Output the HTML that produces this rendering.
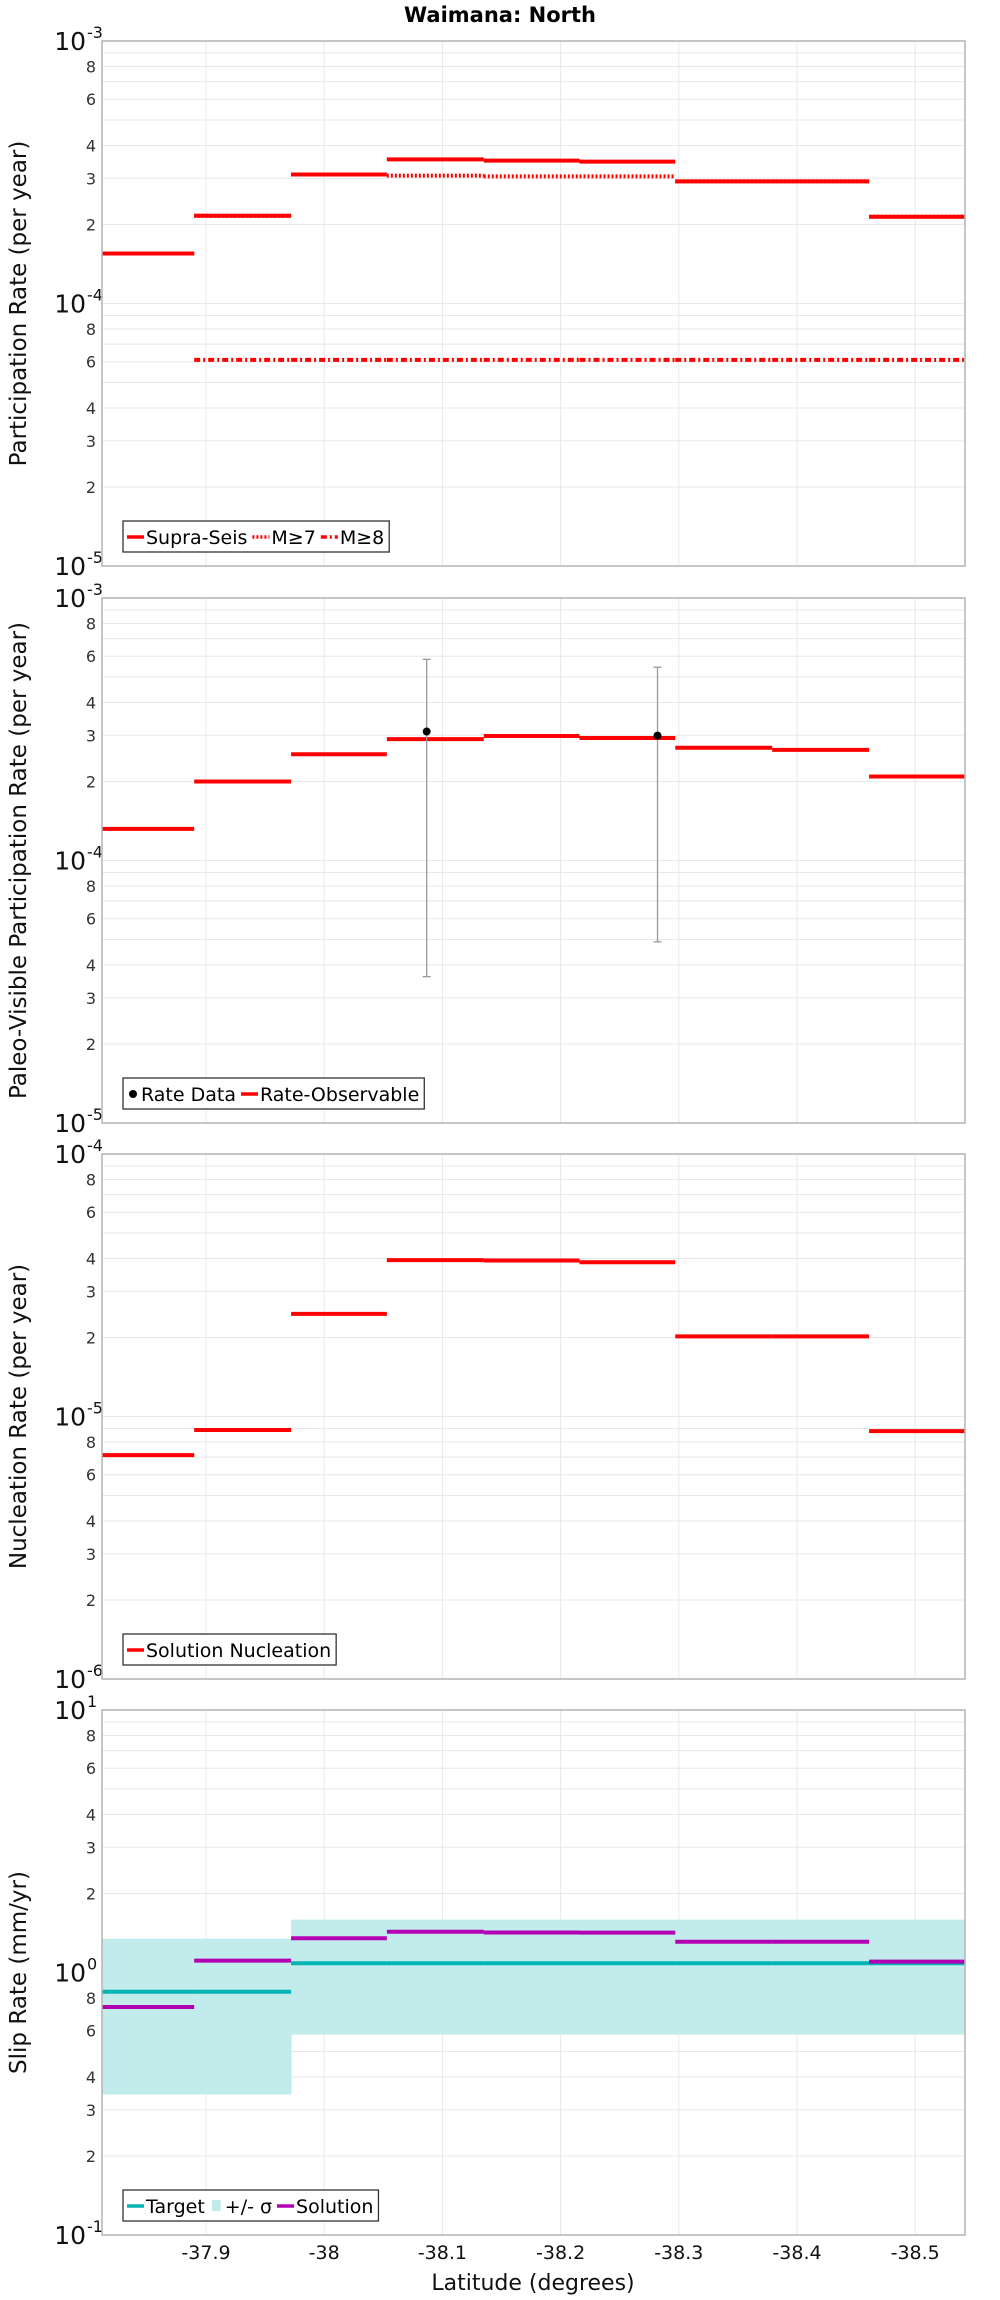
<!DOCTYPE html>
<html><head><meta charset="utf-8"><style>
html,body{margin:0;padding:0;background:#fff;}
svg{display:block;font-family:"DejaVu Sans","Liberation Sans",sans-serif;}
</style></head><body>
<svg id="chart" width="1000" height="2300" xmlns="http://www.w3.org/2000/svg"></svg>
<script>
// Segment boundaries (latitude)
const segEdges = [-37.812,-37.890,-37.972,-38.053,-38.135,-38.216,-38.297,-38.379,-38.461,-38.542];
const xTicks = [-37.9,-38,-38.1,-38.2,-38.3,-38.4,-38.5];
const xTickLabels = ["-37.9","-38","-38.1","-38.2","-38.3","-38.4","-38.5"];
// Panel 1
const supraSeis = [1.55e-4,2.16e-4,3.10e-4,3.54e-4,3.50e-4,3.47e-4,2.92e-4,2.92e-4,2.14e-4];
const m7 = [1.55e-4,2.16e-4,3.10e-4,3.07e-4,3.05e-4,3.05e-4,2.92e-4,2.92e-4,2.14e-4];
const m8 = [null,6.1e-5,6.1e-5,6.1e-5,6.1e-5,6.1e-5,6.1e-5,6.1e-5,6.1e-5];
// Panel 2
const rateObservable = [1.32e-4,2.00e-4,2.54e-4,2.90e-4,2.98e-4,2.93e-4,2.69e-4,2.64e-4,2.09e-4];
const rateDataLat = [-38.0867,-38.282];
const rateDataVal = [3.10e-4,2.99e-4];
const rateDataHi = [5.84e-4,5.45e-4];
const rateDataLo = [3.61e-5,4.9e-5];
// Panel 3
const nucleation = [7.13e-6,8.88e-6,2.46e-5,3.94e-5,3.93e-5,3.87e-5,2.02e-5,2.02e-5,8.8e-6];
// Panel 4
const slipTarget = [0.845,0.845,1.084,1.084,1.084,1.084,1.084,1.084,1.084];
const slipHi = [1.345,1.345,1.59,1.59,1.59,1.59,1.59,1.59,1.59];
const slipLo = [0.343,0.343,0.58,0.58,0.58,0.58,0.58,0.58,0.58];
const slipSolution = [0.739,1.11,1.35,1.43,1.42,1.418,1.31,1.31,1.10];

const NS="http://www.w3.org/2000/svg";
const svg=document.getElementById('chart');
const L=102,R=965;
function X(lat){return 206+(-37.9-lat)*1182;}
function mk(tag,attrs,parent){const e=document.createElementNS(NS,tag);for(const k in attrs)e.setAttribute(k,attrs[k]);(parent||svg).appendChild(e);return e;}

const panels=[
 {top:41,name:'participation',hiExp:-3,loExp:-5,title:'Participation Rate (per year)'},
 {top:598,name:'paleo',hiExp:-3,loExp:-5,title:'Paleo-Visible Participation Rate (per year)'},
 {top:1154,name:'nucleation',hiExp:-4,loExp:-6,title:'Nucleation Rate (per year)'},
 {top:1710,name:'slip',hiExp:1,loExp:-1,title:'Slip Rate (mm/yr)'}
];
const H=525;

const t=mk('text',{x:500,y:22,'text-anchor':'middle','font-size':21,'font-weight':'bold'});
t.textContent='Waimana: North';



panels.forEach(p=>{
 const g=mk('g',{});
 
 
 const Y=v=>p.top+(p.hiExp-Math.log10(v))/(p.hiExp-p.loExp)*H;
 p.Y=Y;p.g=g;
 for(let e=p.loExp;e<p.hiExp;e++){
  for(let m=1;m<=9;m++){
   const v=m*Math.pow(10,e);const y=Y(v);
   if(m>1) mk('line',{x1:L,x2:R,y1:y,y2:y,stroke:'#e8e8e8','stroke-width':1},g);
   if([2,3,4,6,8].includes(m)){
    const tx=mk('text',{x:96,y:y+6,'text-anchor':'end','font-size':16,fill:'#333'},g);tx.textContent=m;
    
    
   }
  }
 }
 for(let e=p.loExp;e<=p.hiExp;e++){
  const y=Y(Math.pow(10,e));
  if(e>p.loExp&&e<p.hiExp) mk('line',{x1:L,x2:R,y1:y,y2:y,stroke:'#e8e8e8','stroke-width':1},g);
  const tx=mk('text',{x:86,y:y+9,'text-anchor':'end','font-size':25,fill:'#111'},g);
  tx.textContent='10';
  
  
  const sp=mk('text',{x:87,y:y-3,'text-anchor':'start','font-size':16,fill:'#111'},g);sp.textContent=String(e);
 }
 xTicks.forEach(v=>mk('line',{x1:X(v),x2:X(v),y1:p.top,y2:p.top+H,stroke:'#e8e8e8','stroke-width':1},g));
 const yt=mk('text',{x:0,y:0,'text-anchor':'middle','font-size':23,fill:'#111',transform:`translate(26,${p.top+H/2}) rotate(-90)`},g);
 yt.textContent=p.title;
 
 
});

function steps(p,vals,stroke,w,dash,name){
 vals.forEach((v,i)=>{
  if(v==null)return;
  const y=p.Y(v);
  const a={x1:X(segEdges[i]),x2:X(segEdges[i+1]),y1:y,y2:y,stroke:stroke,'stroke-width':w};
  if(dash)a['stroke-dasharray']=dash;
  const l=mk('line',a,p.g);
  
  
 });
}
steps(panels[0],supraSeis,'#ff0000',4,null,'supra-seis');
steps(panels[0],m7,'#ff0000',4,'2,2','m7');
steps(panels[0],m8,'#ff0000',4,'6,3,2,3','m8');
steps(panels[1],rateObservable,'#ff0000',4,null,'rate-observable');
rateDataLat.forEach((lat,i)=>{
 const p=panels[1],x=X(lat);
 mk('line',{x1:x,x2:x,y1:p.Y(rateDataHi[i]),y2:p.Y(rateDataLo[i]),stroke:'#999','stroke-width':1.3},p.g);
 [rateDataHi[i],rateDataLo[i]].forEach(v=>mk('line',{x1:x-4,x2:x+4,y1:p.Y(v),y2:p.Y(v),stroke:'#999','stroke-width':1.3},p.g));
 const c=mk('circle',{cx:x,cy:p.Y(rateDataVal[i]),r:4,fill:'#000'},p.g);
 
 
});
steps(panels[2],nucleation,'#ff0000',4,null,'nucleation');
slipHi.forEach((v,i)=>{
 const p=panels[3];
 const r=mk('rect',{x:X(segEdges[i]),y:p.Y(v),width:X(segEdges[i+1])-X(segEdges[i])+0.5,height:p.Y(slipLo[i])-p.Y(v),fill:'#c2eceb'},p.g);
 
 
});
steps(panels[3],slipTarget,'#00b4b4',4,null,'target');
steps(panels[3],slipSolution,'#b400b4',4,null,'solution');

const legends=[
 [['line','#ff0000',null,'Supra-Seis'],['line','#ff0000','2,2','M≥7'],['line','#ff0000','6,3,2,3','M≥8']],
 [['dot','#000',null,'Rate Data'],['line','#ff0000',null,'Rate-Observable']],
 [['line','#ff0000',null,'Solution Nucleation']],
 [['line','#00b4b4',null,'Target'],['box','#c2eceb',null,'+/- σ'],['line','#b400b4',null,'Solution']]
];
panels.forEach((p,pi)=>{
 mk('rect',{x:L,y:p.top,width:R-L,height:H,fill:'none',stroke:'#b4b4b4','stroke-width':1.5},p.g);
 const lg=mk('g',{},p.g);
 
 
 const ly=p.top+H-45;
 const box=mk('rect',{x:123,y:ly,width:10,height:31,fill:'#fff',stroke:'#333','stroke-width':1.3},lg);
 let cx=127;
 legends[pi].forEach(it=>{
  const [kind,col,dash,label]=it;
  if(kind==='line'){const a={x1:cx,x2:cx+17,y1:ly+16,y2:ly+16,stroke:col,'stroke-width':3.5};if(dash)a['stroke-dasharray']=dash;mk('line',a,lg);cx+=19;}
  else if(kind==='dot'){mk('circle',{cx:cx+6,cy:ly+16,r:4,fill:col},lg);cx+=14;}
  else {mk('rect',{x:cx+2,y:ly+10,width:9,height:11,fill:col},lg);cx+=15;}
  const tx=mk('text',{x:cx,y:ly+23,'font-size':19,fill:'#000'},lg);tx.textContent=label;
  
  
  cx+=tx.getComputedTextLength()+5;
 });
 box.setAttribute('width',cx-123);
});
xTicks.forEach((v,i)=>{
 const tx=mk('text',{x:X(v),y:2259,'text-anchor':'middle','font-size':19,fill:'#111'});
 tx.textContent=xTickLabels[i];
 
 
});
const xt=mk('text',{x:533,y:2290,'text-anchor':'middle','font-size':22,fill:'#111'});
xt.textContent='Latitude (degrees)';


</script>
</body></html>
